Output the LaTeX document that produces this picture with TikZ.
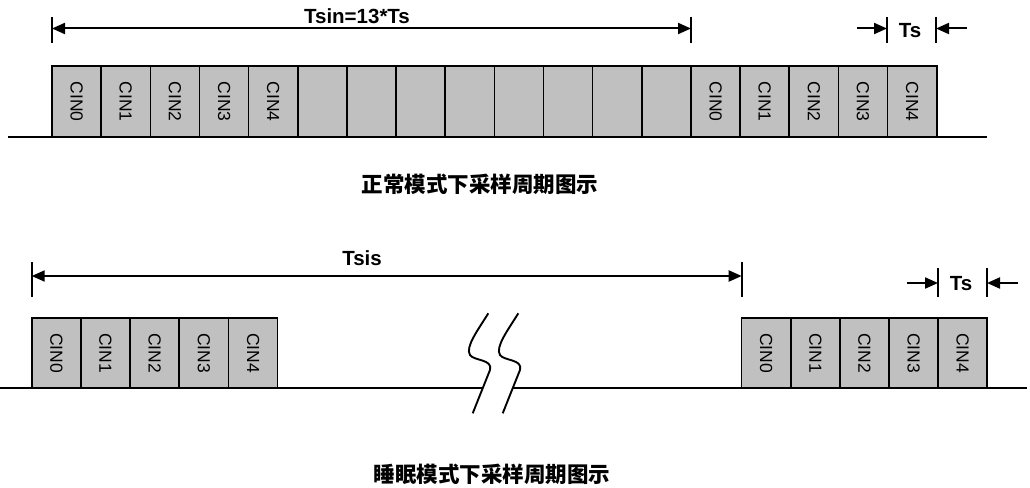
\documentclass[tikz,border=0pt]{standalone}
\usepackage{fontspec}
\setmainfont{Liberation Sans}
\newfontfamily\cjk{Noto Sans CJK SC}
\usetikzlibrary{arrows.meta}
\definecolor{cellgray}{RGB}{192,192,192}
\tikzset{
  cell/.style={draw=black, fill=cellgray, line width=1.6pt, rotate=-90,
    minimum width=#1, minimum height=49.15pt, inner sep=0pt, outer sep=0pt,
    font=\fontsize{17.5}{20}\selectfont},
  cell/.default=71pt,
  baseline/.style={line width=2.4pt},
  tick/.style={line width=2.2pt},
  dimarrow/.style={line width=2pt, -{Triangle[length=13pt,width=11pt]}},
  dimboth/.style={line width=2pt, {Triangle[length=13pt,width=11pt]}-{Triangle[length=13pt,width=11pt]}},
  dimlabel/.style={font=\fontsize{20.5}{24}\selectfont\bfseries, inner sep=0pt},
  caption/.style={font=\cjk\fontsize{21.5}{24}\selectfont\bfseries, inner sep=0pt},
  breakline/.style={line width=1.9pt}
}
\begin{document}
\begin{tikzpicture}[x=1pt,y=-1pt]
\useasboundingbox (0,0) rectangle (1030,487);
% ---------- top: normal mode ----------
\draw[baseline] (8,137) coordinate (tb0) -- (987,137) coordinate (tb1);
\foreach \i in {0,...,17} {
  \pgfmathsetmacro{\cx}{52+49.15*(\i+0.5)}
  \ifnum\i<5
    \node[cell] (t\i) at (\cx,101.5) {CIN\i};
  \else\ifnum\i>12
    \pgfmathtruncatemacro{\k}{\i-13}
    \node[cell] (t\i) at (\cx,101.5) {CIN\k};
  \else
    \node[cell] (t\i) at (\cx,101.5) {};
  \fi\fi
}
% Tsin dimension
\coordinate (ta) at (52,17);   \coordinate (tab) at (52,43);
\coordinate (tb) at (691,17);  \coordinate (tbb) at (691,43);
\draw[tick] (ta) -- (tab);
\draw[tick] (tb) -- (tbb);
\coordinate (tl) at (52,28.5); \coordinate (tr) at (691,28.5);
\draw[dimboth] (tl) -- (tr);
\node[dimlabel] (tsin) at (357,16.5) {Tsin=13*Ts};
% Ts dimension top
\coordinate (tc) at (887,17);  \coordinate (tcb) at (887,43);
\coordinate (td) at (936,17);  \coordinate (tdb) at (936,43);
\draw[tick] (tc) -- (tcb);
\draw[tick] (td) -- (tdb);
\coordinate (tsl0) at (857,28.5); \coordinate (tsl1) at (887,28.5);
\coordinate (tsr0) at (967,28.5); \coordinate (tsr1) at (936,28.5);
\draw[dimarrow] (tsl0) -- (tsl1);
\draw[dimarrow] (tsr0) -- (tsr1);
\node[dimlabel] (ts1) at (910,31) {Ts};
\node[caption] (cap1) at (480,184) {正常模式下采样周期图示};
% ---------- bottom: sleep mode ----------
\draw[baseline] (0,388) coordinate (bb0) -- (1027,388) coordinate (bb1);
\foreach \i in {0,...,4} {
  \pgfmathsetmacro{\cx}{31.7+49.2*(\i+0.5)}
  \node[cell=70pt] (bl\i) at (\cx,353) {CIN\i};
  \pgfmathsetmacro{\dx}{741.7+49.1*(\i+0.5)}
  \node[cell=70pt] (br\i) at (\dx,353) {CIN\i};
}
% break symbol
\fill[white] (484.5,382) -- (514.5,382) -- (511.5,394) -- (481.5,394) -- cycle;
\foreach \s in {0,30} {
  \begin{scope}[xshift=\s]
    \draw[breakline] (488.3,313.3) .. controls (478,330) and (465,347) .. (470,355)
      .. controls (474,361) and (493,359) .. (490,370) -- (472.7,413.3);
  \end{scope}
}
% Tsis dimension
\coordinate (ba) at (31.7,262);  \coordinate (bab) at (31.7,297);
\coordinate (bbt) at (741.7,262); \coordinate (bbb) at (741.7,297);
\draw[tick] (ba) -- (bab);
\draw[tick] (bbt) -- (bbb);
\coordinate (bl) at (31.7,276); \coordinate (br) at (741.7,276);
\draw[dimboth] (bl) -- (br);
\node[dimlabel] (tsis) at (362,258) {Tsis};
% Ts dimension bottom
\coordinate (bc) at (938,268);  \coordinate (bcb) at (938,297);
\coordinate (bd) at (987,268);  \coordinate (bdb) at (987,297);
\draw[tick] (bc) -- (bcb);
\draw[tick] (bd) -- (bdb);
\coordinate (bsl0) at (907,283); \coordinate (bsl1) at (938,283);
\coordinate (bsr0) at (1018,283); \coordinate (bsr1) at (987,283);
\draw[dimarrow] (bsl0) -- (bsl1);
\draw[dimarrow] (bsr0) -- (bsr1);
\node[dimlabel] (ts2) at (961,284) {Ts};
\node[caption] (cap2) at (492,474) {睡眠模式下采样周期图示};
\end{tikzpicture}
\end{document}
